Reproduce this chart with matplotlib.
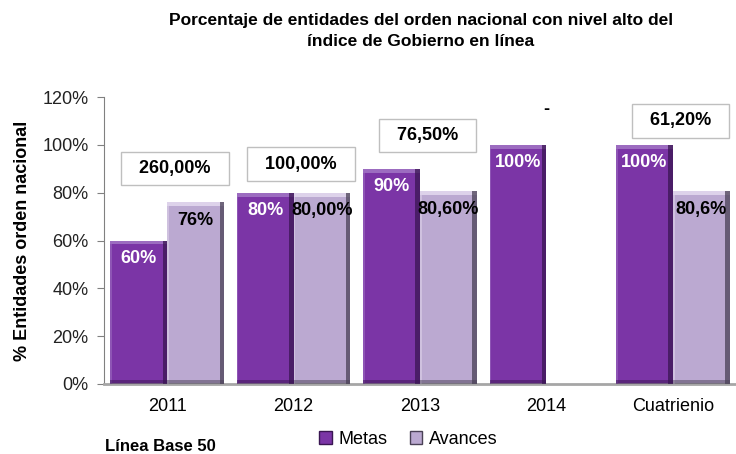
import numpy as np
import matplotlib.pyplot as plt
from matplotlib import font_manager
from matplotlib.patches import Patch

# ---------- data ----------
categories = ["2011", "2012", "2013", "2014", "Cuatrienio"]
metas = [60, 80, 90, 100, 100]
avances = [76, 80, 80.6, np.nan, 80.6]
metas_labels = ["60%", "80%", "90%", "100%", "100%"]
avances_labels = ["76%", "80,00%", "80,60%", "", "80,6%"]
box_labels = ["260,00%", "100,00%", "76,50%", "-", "61,20%"]
box_y = [90, 92, 104, 115, 110]

names = {f.name for f in font_manager.fontManager.ttflist}
narrow = "Liberation Sans Narrow" if "Liberation Sans Narrow" in names else "Liberation Sans"
plt.rcParams["font.family"] = [narrow, "DejaVu Sans"]

c_metas = "#7B35A6"
c_avances = "#BBA9D1"

fig = plt.figure(figsize=(7.36, 4.54), dpi=100)
ax = fig.add_axes([0.1413, 0.1542, 0.8587, 0.632])

x = np.arange(len(categories))
w = 0.45


def bevel_bars(xs, vals, color, dark, light):
    vals = np.array(vals, dtype=float)
    ax.bar(xs, vals, w, color=color, zorder=2)
    # soft bevel: light top edge, dark right edge, dark bottom edge
    ax.bar(xs, np.full_like(vals, 1.6), w, bottom=vals - 1.6, color=light, zorder=3)
    ax.bar(xs + w / 2 - w * 0.04, vals, w * 0.08, color=dark, alpha=0.75, zorder=3)
    ax.bar(xs - w / 2 + w * 0.015, vals, w * 0.03, color=light, alpha=0.6, zorder=3)
    ax.bar(xs, np.where(np.isnan(vals), np.nan, 1.5), w, color=dark, alpha=0.5, zorder=3)


bevel_bars(x - w / 2, metas, c_metas, "#3A1652", "#9C6CC0")
bevel_bars(x + w / 2, avances, c_avances, "#4A4156", "#DDD2EA")

for i in range(len(categories)):
    ax.text(x[i] - w / 2, metas[i] - 4, metas_labels[i], ha="center", va="top",
            color="white", fontsize=13, fontweight="bold", zorder=5)
    if avances_labels[i]:
        ax.text(x[i] + w / 2, avances[i] - 4, avances_labels[i], ha="center", va="top",
                color="black", fontsize=13, fontweight="bold", zorder=5)
    if box_labels[i] == "-":
        ax.text(x[i], box_y[i], "-", ha="center", va="center", fontsize=13,
                fontweight="bold", zorder=5)
    else:
        ax.text(x[i] + 0.06, box_y[i], "  " + box_labels[i] + "  ", ha="center", va="center",
                fontsize=13, fontweight="bold", zorder=5,
                bbox=dict(boxstyle="square,pad=0.45", fc="white", ec="#BFBFBF", lw=1))

ax.set_xlim(-0.5, len(categories) - 0.5)
ax.set_ylim(0, 120)
ax.set_yticks(range(0, 121, 20))
ax.set_yticklabels([f"{v}%" for v in range(0, 121, 20)], fontsize=13, color="#222222")
ax.set_xticks(x)
ax.set_xticklabels(categories, fontsize=13)
ax.tick_params(axis="x", length=0, pad=10)
ax.tick_params(axis="y", length=5, color="#808080", direction="out", pad=6)
for s in ["top", "right"]:
    ax.spines[s].set_visible(False)
ax.spines["left"].set_color("#808080")
ax.spines["bottom"].set_color("#A6A6A6")
ax.spines["bottom"].set_linewidth(2)

ax.set_ylabel("% Entidades orden nacional", fontsize=13, fontweight="bold", labelpad=8)

fig.text(0.572, 0.932, "Porcentaje de entidades del orden nacional con nivel alto del\n"
         "índice de Gobierno en línea", ha="center", va="center", fontsize=12.5,
         fontweight="bold", linespacing=1.45)

handles = [Patch(facecolor=c_metas, edgecolor="#3A1652"),
           Patch(facecolor=c_avances, edgecolor="#4A4156")]
fig.legend(handles, ["Metas", "Avances"], loc="center", bbox_to_anchor=(0.555, 0.032),
           ncol=2, frameon=False, fontsize=13, handlelength=0.7, handleheight=0.7,
           handletextpad=0.4, columnspacing=1.2)

fig.text(0.142, 0.016, "Línea Base 50", ha="left", va="center", fontsize=12,
         fontweight="bold")

fig.savefig("out.png", dpi=100)
